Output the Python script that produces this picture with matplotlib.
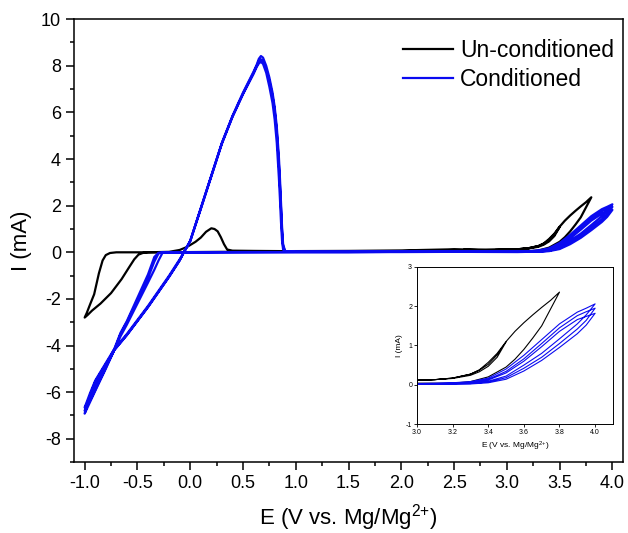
import matplotlib.pyplot as plt
from matplotlib.ticker import MultipleLocator

plt.rcParams['font.family'] = ['Liberation Sans', 'DejaVu Sans']
plt.rcParams['mathtext.default'] = 'regular'
plt.rcParams['axes.unicode_minus'] = False

# ---- Un-conditioned electrode (black) ----
# first sweep up to 3.5 V
bk_e1 = [2.6, 2.8, 3.0, 3.1, 3.2, 3.3, 3.35, 3.4, 3.45, 3.5]
bk_i1 = [0.12, 0.11, 0.12, 0.13, 0.16, 0.24, 0.33, 0.47, 0.7, 1.09]
# cathodic sweep 3.5 -> -1.0
bk_e2 = [3.5, 3.45, 3.4, 3.35, 3.3, 3.2, 3.1, 3.0, 2.8, 2.6, 2.5, 2.4, 2.2, 2.0, 1.5, 1.0,
         0.5, 0.3, 0.0, -0.2, -0.4, -0.45, -0.49, -0.53, -0.58, -0.65, -0.75, -0.85, -0.93, -0.97, -1.0]
bk_i2 = [1.09, 0.76, 0.52, 0.37, 0.27, 0.17, 0.13, 0.11, 0.1, 0.1, 0.1, 0.09, 0.07, 0.05, 0.03, 0.02,
         0.02, 0.02, 0.01, 0.0, 0.0, -0.03, -0.1, -0.3, -0.65, -1.15, -1.75, -2.2, -2.5, -2.68, -2.8]
# anodic sweep -1.0 -> 3.8
bk_e3 = [-1.0, -0.98, -0.95, -0.91, -0.865, -0.83, -0.8, -0.76, -0.7, -0.4, -0.2, -0.15, -0.1, -0.03,
         0.05, 0.1, 0.15, 0.2, 0.23, 0.26, 0.29, 0.32, 0.35, 0.4, 0.6, 0.9, 1.5, 2.0, 2.3, 2.5,
         2.7, 3.0, 3.2, 3.3, 3.4, 3.5, 3.55, 3.6, 3.65, 3.7, 3.75, 3.8]
bk_i3 = [-2.8, -2.6, -2.25, -1.8, -0.9, -0.35, -0.12, -0.03, 0.0, 0.0, 0.02, 0.06, 0.1, 0.23,
         0.45, 0.63, 0.88, 1.03, 1.0, 0.9, 0.65, 0.35, 0.12, 0.07, 0.06, 0.05, 0.06, 0.08, 0.11, 0.13,
         0.1, 0.04, 0.04, 0.08, 0.2, 0.45, 0.65, 0.9, 1.19, 1.5, 1.93, 2.36]
# reverse from 3.8
bk_e4 = [3.8, 3.75, 3.7, 3.65, 3.6, 3.55, 3.5, 3.45, 3.4, 3.35, 3.3, 3.2, 3.1, 3.0, 2.9]
bk_i4 = [2.36, 2.15, 1.97, 1.78, 1.58, 1.36, 1.1, 0.8, 0.57, 0.38, 0.27, 0.17, 0.13, 0.11, 0.1]

# ---- Conditioned electrode (blue), three cycles ----
e_fwd = [2.5, 3.0, 3.1, 3.2, 3.3, 3.4, 3.5, 3.6, 3.7, 3.8, 3.9, 3.95, 4.0]
fwd_1 = [0.02, 0.02, 0.02, 0.03, 0.04, 0.09, 0.22, 0.5, 0.8, 1.17, 1.55, 1.78, 2.06]
fwd_2 = [0.02, 0.02, 0.02, 0.02, 0.03, 0.07, 0.18, 0.42, 0.7, 1.05, 1.42, 1.64, 1.95]
fwd_3 = [0.02, 0.01, 0.01, 0.02, 0.02, 0.05, 0.14, 0.35, 0.62, 0.95, 1.3, 1.52, 1.82]

e_rev = [4.0, 3.95, 3.9, 3.8, 3.7, 3.6, 3.5, 3.4, 3.3, 3.2, 3.0, 2.5, 2.0, 1.5, 1.0, 0.5, 0.0,
         -0.2, -0.26, -0.3, -0.34, -0.4, -0.5, -0.6, -0.66, -0.72, -0.8, -0.9, -1.0]
rev_1 = [2.06, 1.95, 1.85, 1.55, 1.15, 0.75, 0.4, 0.17, 0.08, 0.05, 0.03, 0.02, 0.02, 0.01, 0.01, 0.01, 0.0,
         0.0, 0.0, -0.35, -0.75, -1.3, -2.2, -3.1, -3.6, -4.2, -5.0, -5.95, -6.92]
rev_2 = [1.95, 1.86, 1.76, 1.45, 1.05, 0.66, 0.34, 0.14, 0.06, 0.04, 0.02, 0.02, 0.02, 0.01, 0.01, 0.01, 0.0,
         0.0, 0.0, -0.05, -0.4, -1.1, -2.08, -3.0, -3.5, -4.2, -4.95, -5.9, -6.8]
rev_3 = [1.82, 1.74, 1.66, 1.36, 0.97, 0.6, 0.3, 0.12, 0.05, 0.03, 0.02, 0.02, 0.01, 0.01, 0.01, 0.0, 0.0,
         0.0, 0.0, -0.02, -0.2, -0.95, -1.95, -2.95, -3.45, -4.15, -4.9, -5.8, -6.66]

e_strip = [-1.0, -0.95, -0.9, -0.8, -0.72, -0.6, -0.5, -0.4, -0.3, -0.2, -0.1, -0.06, 0.0, 0.1,
           0.2, 0.3, 0.4, 0.5, 0.55, 0.6, 0.63, 0.65, 0.67, 0.69, 0.72, 0.75, 0.78, 0.8, 0.82,
           0.84, 0.85, 0.86, 0.87, 0.88, 0.9, 1.0, 1.5, 2.0, 2.5]
strip_1 = [-6.92, -6.25, -5.65, -4.85, -4.2, -3.55, -2.95, -2.35, -1.7, -1.05, -0.35, 0.0, 0.5, 1.9,
           3.3, 4.7, 5.85, 6.85, 7.3, 7.75, 8.05, 8.3, 8.42, 8.35, 8.0, 7.5, 6.85, 6.25, 5.4,
           4.1, 3.2, 2.2, 1.1, 0.35, 0.04, 0.02, 0.02, 0.02, 0.02]
strip_2 = [-6.8, -6.15, -5.55, -4.8, -4.2, -3.55, -2.95, -2.35, -1.7, -1.05, -0.35, 0.0, 0.48, 1.88,
           3.28, 4.68, 5.82, 6.8, 7.25, 7.7, 8.0, 8.2, 8.28, 8.2, 7.85, 7.35, 6.7, 6.1, 5.2,
           3.8, 2.9, 1.9, 0.9, 0.25, 0.03, 0.02, 0.02, 0.02, 0.02]
strip_3 = [-6.66, -6.05, -5.5, -4.75, -4.15, -3.5, -2.9, -2.3, -1.65, -1.0, -0.3, 0.0, 0.47, 1.85,
           3.25, 4.65, 5.8, 6.78, 7.22, 7.65, 7.95, 8.1, 8.17, 8.08, 7.7, 7.1, 6.4, 5.7, 4.7,
           3.2, 2.3, 1.3, 0.5, 0.12, 0.02, 0.02, 0.02, 0.02, 0.02]

bk_e = bk_e1 + bk_e2 + bk_e3 + bk_e4
bk_i = bk_i1 + bk_i2 + bk_i3 + bk_i4
bl_e = e_fwd + e_rev + e_strip + e_fwd + e_rev + e_strip + e_fwd + e_rev + e_strip
bl_i = fwd_1 + rev_1 + strip_1 + fwd_2 + rev_2 + strip_2 + fwd_3 + rev_3 + strip_3

fig = plt.figure(figsize=(6.28, 5.33), dpi=100)
ax = fig.add_axes([0.118, 0.133, 0.874, 0.831])
ax.plot(bk_e, bk_i, color='black', lw=1.6, label='Un-conditioned')
ax.plot(bl_e, bl_i, color='#0a0af0', lw=1.6, label='Conditioned')
ax.set_xlim(-1.1, 4.1)
ax.set_ylim(-9, 10)
ax.xaxis.set_major_locator(MultipleLocator(0.5))
ax.xaxis.set_minor_locator(MultipleLocator(0.25))
ax.yaxis.set_major_locator(MultipleLocator(2))
ax.yaxis.set_minor_locator(MultipleLocator(1))
ax.xaxis.set_major_formatter(plt.FormatStrFormatter('%.1f'))
ax.tick_params(which='major', direction='out', length=6, width=1.1, labelsize=13)
ax.tick_params(which='minor', direction='out', length=3, width=1.1)
for s in ax.spines.values():
    s.set_linewidth(1.1)
ax.set_xlabel('E (V vs. Mg/Mg$^{2{+}}$)', fontsize=16, labelpad=7)
ax.set_ylabel('I (mA)', fontsize=16, labelpad=6)
ax.legend(loc='upper right', bbox_to_anchor=(1.0, 0.975), frameon=False, fontsize=16.5,
          handlelength=2.2, handletextpad=0.3, labelspacing=0.25, borderaxespad=0.0)

# inset: zoom on the oxidation onset
ins = fig.add_axes([0.664, 0.2045, 0.312, 0.2946])
ins.plot(bk_e, bk_i, color='black', lw=0.8)
ins.plot(bl_e, bl_i, color='#0a0af0', lw=0.8)
ins.set_xlim(3.0, 4.1)
ins.set_ylim(-1, 3)
ins.xaxis.set_major_locator(MultipleLocator(0.2))
ins.yaxis.set_major_locator(MultipleLocator(1))
ins.xaxis.set_major_formatter(plt.FormatStrFormatter('%.1f'))
ins.tick_params(direction='out', length=2, width=0.6, labelsize=5, pad=1.5)
for s in ins.spines.values():
    s.set_linewidth(0.7)
ins.set_xlabel('E (V vs. Mg/Mg$^{2{+}}$)', fontsize=6, labelpad=3)
ins.set_ylabel('I (mA)', fontsize=6, labelpad=2)

fig.savefig('out.png', dpi=100)
